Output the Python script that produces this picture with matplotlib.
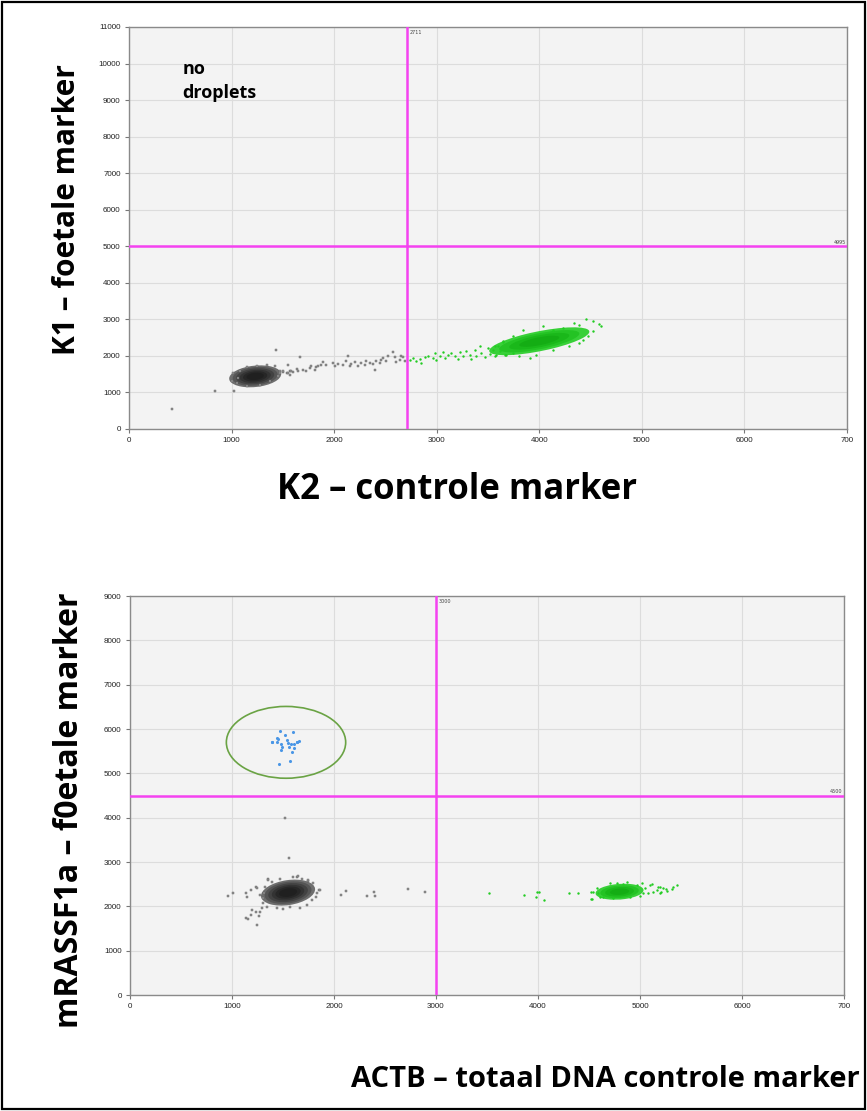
import matplotlib
matplotlib.use("Agg")
import matplotlib.pyplot as plt
from matplotlib.patches import Ellipse, Rectangle

# --- data ---
x_ticks = [0, 1000, 2000, 3000, 4000, 5000, 6000, 7000]
x_ticklabels = ['0', '1000', '2000', '3000', '4000', '5000', '6000', '700']
y_ticks_top = list(range(0, 11001, 1000))
y_ticks_bot = list(range(0, 9001, 1000))

# threshold lines
top_thr_x, top_thr_y = 2711, 4995
bot_thr_x, bot_thr_y = 3000, 4500

# dense droplet clouds: centre x, centre y, width, height, angle (data units)
top_neg_cloud = [1230, 1440, 624, 478, 65]
top_pos_cloud = [4000, 2400, 1145, 474, 35]
bot_neg_cloud = [1550, 2310, 630, 478, 56]
bot_pos_cloud = [4800, 2330, 482, 346, 18]

# top plot - grey droplets around / away from the dense cloud
top_grey_x = [415, 840, 1020, 1430, 1665,
              1016, 1000, 1049, 1146, 1276, 1373, 1455, 1471, 1422, 1341, 1244, 1146, 1081, 1065,
              1503, 1536, 1568, 1552, 1601,
              1470, 1503, 1551, 1568, 1584, 1633, 1649, 1698, 1730, 1762, 1779, 1811, 1827, 1844,
              1876, 1892, 1925, 1990, 2006, 2038, 2087, 2120, 2136, 2152, 2168, 2201, 2233, 2266,
              2298, 2314, 2347, 2379, 2395, 2412, 2444, 2460, 2477, 2509, 2525, 2574, 2590, 2606,
              2639, 2655, 2671, 2687]
top_grey_y = [545, 1050, 1030, 2150, 1970,
              1529, 1302, 1256, 1165, 1210, 1302, 1438, 1575, 1711, 1757, 1730, 1693, 1575, 1393,
              1547, 1529, 1575, 1757, 1547,
              1529, 1575, 1529, 1466, 1575, 1639, 1593, 1620, 1575, 1666, 1711, 1620, 1693, 1730,
              1757, 1821, 1757, 1803, 1711, 1784, 1757, 1848, 1985, 1711, 1784, 1821, 1711, 1803,
              1757, 1848, 1803, 1784, 1602, 1848, 1803, 1894, 1939, 1848, 2003, 2094, 1957, 1821,
              1894, 2003, 1957, 1848]

# top plot - green droplets (trail + edge of the cloud)
top_green_x = [2736, 2769, 2801, 2834, 2850, 2882, 2915, 2963, 2980, 2996, 3028, 3061, 3077,
               3109, 3142, 3174, 3207, 3223, 3256, 3288, 3320, 3337, 3369, 3385, 3418, 3434,
               3466, 3499, 3515, 3548, 3564, 3596, 3613, 3645, 3661,
               4457, 4521, 4603, 4586, 4392, 4035, 3840, 4424, 4521, 4343, 4229, 4132, 3742,
               3645, 3564, 3677, 3807, 3970, 4132, 4294, 4392, 4473, 3905, 3742, 3580]
top_green_y = [1894, 1939, 1848, 1912, 1803, 1967, 2003, 1939, 2076, 1876, 1985, 2094, 1930,
               2030, 2076, 1985, 1912, 2094, 2003, 2121, 2030, 1912, 2167, 2003, 2258, 2076,
               1967, 2212, 2058, 2167, 1985, 2276, 2121, 2367, 2030,
               3014, 2968, 2804, 2877, 2850, 2805, 2695, 2440, 2668, 2896, 2759, 2713, 2531,
               2395, 2258, 2030, 1985, 2030, 2167, 2258, 2349, 2531, 1939, 2076, 2030]

# bottom plot - blue (positive) droplets
bot_blue_x = [1474, 1520, 1595, 1438, 1451, 1542, 1395, 1389, 1444, 1484, 1552, 1578,
              1605, 1640, 1660, 1634, 1559, 1611, 1490, 1480, 1588, 1461, 1569]
bot_blue_y = [5963, 5873, 5933, 5805, 5782, 5760, 5715, 5700, 5700, 5670, 5693, 5670,
              5662, 5715, 5737, 5707, 5587, 5572, 5587, 5527, 5474, 5203, 5271]

# bottom plot - grey droplets
bot_grey_x = [1520, 1560, 960, 1010, 1135, 1145, 1190, 1240, 1135, 1155, 1185, 1200, 1235,
              1250, 1265, 1275, 2070, 2115, 2325, 2395, 2405, 2730, 2890, 1855, 1640, 1750,
              1355, 1356, 1601, 1650, 1748, 1862, 1830, 1823, 1781, 1732, 1568, 1437, 1339,
              1307, 1300, 1313, 1323, 1388, 1470, 1683, 1797, 1274, 1248, 1290, 1503, 1666]
bot_grey_y = [3990, 3080, 2230, 2310, 2290, 2220, 2370, 2430, 1745, 1710, 1810, 1920, 1880,
              1580, 1790, 1880, 2250, 2355, 2225, 2325, 2235, 2385, 2325, 2370, 2670, 2580,
              2610, 2595, 2670, 2685, 2595, 2369, 2294, 2204, 2143, 2031, 1993, 1955, 1993,
              2068, 2181, 2294, 2444, 2557, 2610, 2610, 2519, 2256, 2407, 1955, 1933, 1970]

# bottom plot - green droplets
bot_green_x = [3520, 3865, 3980, 3995, 4010, 4060, 4300, 4390, 4520, 4525, 5165, 5195, 5210,
               5260, 5325, 5360, 5115,
               4526, 4543, 4575, 4592, 4608, 4706, 4772, 4837, 4870, 4902, 4968, 5017, 5049,
               5098, 5082, 5131, 5180, 5229, 5262, 5196, 4739, 4641, 5000, 5033, 5311]
bot_green_y = [2310, 2250, 2205, 2325, 2325, 2150, 2295, 2295, 2325, 2165, 2370, 2430, 2315,
               2400, 2430, 2475, 2505,
               2158, 2331, 2406, 2293, 2203, 2519, 2534, 2504, 2556, 2218, 2481, 2519, 2406,
               2481, 2293, 2331, 2443, 2406, 2353, 2293, 2180, 2218, 2233, 2308, 2383]

# circled cluster in the bottom plot: centre x, centre y, width, height
bot_circle = [1530, 5700, 1170, 1620]

magenta = '#f442f0'
grey_layers = ['#6e6e6e', '#555555', '#424242', '#333333', '#272727', '#202020']
green_layers = ['#38d038', '#24c324', '#1ab81a', '#14ad14']
tick_font = dict(family='Liberation Sans', size=5.8, color='#222222')

fig = plt.figure(figsize=(8.67, 11.11), dpi=100)
ax1 = fig.add_axes([0.1488, 0.6139, 0.8281, 0.3618])
ax2 = fig.add_axes([0.1499, 0.1044, 0.8235, 0.3591])


def draw_cloud(ax, cloud, colors):
    cx, cy, w, h, ang = cloud
    n = len(colors)
    for i, c in enumerate(colors):
        f = 1.0 - i * (0.8 / n)
        ax.add_patch(Ellipse((cx, cy), w * f, h * f, angle=ang, facecolor=c,
                             edgecolor='none', zorder=2))


def style_axes(ax, yticks, ymax):
    ax.set_facecolor('#f3f3f3')
    ax.set_xlim(0, 7000)
    ax.set_ylim(0, ymax)
    ax.set_xticks(x_ticks)
    ax.set_xticklabels(x_ticklabels, fontdict=tick_font)
    ax.set_yticks(yticks)
    ax.set_yticklabels([str(v) for v in yticks], fontdict=tick_font)
    ax.grid(True, color='#dcdcdc', lw=0.8, zorder=0)
    ax.set_axisbelow(True)
    ax.tick_params(length=3, width=0.8, color='#777777', pad=3)
    for s in ax.spines.values():
        s.set_color('#8a8a8a')
        s.set_linewidth(1.0)


# --- top plot ---
style_axes(ax1, y_ticks_top, 11000)
draw_cloud(ax1, top_neg_cloud, grey_layers)
draw_cloud(ax1, top_pos_cloud, green_layers)
ax1.scatter(top_grey_x, top_grey_y, s=3, marker='s', facecolor='#9a9a9a',
            edgecolor='#5e5e5e', linewidths=0.3, zorder=3)
ax1.scatter(top_green_x, top_green_y, s=3, color='#22cc22', linewidths=0, zorder=3)
ax1.axvline(top_thr_x, color=magenta, lw=1.8, zorder=4)
ax1.axhline(top_thr_y, color=magenta, lw=1.8, zorder=4)
ax1.annotate(str(top_thr_x), (top_thr_x, 11000), xytext=(2, -2), textcoords='offset points',
             ha='left', va='top', fontsize=3.5, color='#444444')
ax1.annotate(str(top_thr_y), (7000, top_thr_y), xytext=(-1, 1), textcoords='offset points',
             ha='right', va='bottom', fontsize=3.5, color='#444444')
ax1.text(520, 9520, 'no\ndroplets', fontsize=13, fontweight='bold', family='Open Sans',
         ha='left', va='center', linespacing=1.4)

# --- bottom plot ---
style_axes(ax2, y_ticks_bot, 9000)
draw_cloud(ax2, bot_neg_cloud, grey_layers)
draw_cloud(ax2, bot_pos_cloud, green_layers)
ax2.scatter(bot_grey_x, bot_grey_y, s=3, marker='s', facecolor='#9a9a9a',
            edgecolor='#5e5e5e', linewidths=0.3, zorder=3)
ax2.scatter(bot_green_x, bot_green_y, s=3, color='#22cc22', linewidths=0, zorder=3)
ax2.scatter(bot_blue_x, bot_blue_y, s=5, color='#4a96e6', linewidths=0, zorder=3)
cx, cy, w, h = bot_circle
ax2.add_patch(Ellipse((cx, cy), w, h, facecolor='none', edgecolor='#6aa344', lw=1.2, zorder=4))
ax2.axvline(bot_thr_x, color=magenta, lw=1.8, zorder=4)
ax2.axhline(bot_thr_y, color=magenta, lw=1.8, zorder=4)
ax2.annotate(str(bot_thr_x), (bot_thr_x, 9000), xytext=(2, -2), textcoords='offset points',
             ha='left', va='top', fontsize=3.5, color='#444444')
ax2.annotate(str(bot_thr_y), (7000, bot_thr_y), xytext=(-1, 1), textcoords='offset points',
             ha='right', va='bottom', fontsize=3.5, color='#444444')

# --- axis titles ---
lab = dict(fontweight='bold', family='Open Sans', color='black', ha='center', va='center')
fig.text(0.0773, 0.811, 'K1 – foetale marker', rotation=90, fontsize=21.5, **lab)
fig.text(0.527, 0.559, 'K2 – controle marker', fontsize=25, **lab)
fig.text(0.0807, 0.271, 'mRASSF1a – f0etale marker', rotation=90, fontsize=23, **lab)
fig.text(0.698, 0.028, 'ACTB – totaal DNA controle marker', fontsize=21, **lab)

# frame round the whole picture
fig.patches.append(Rectangle((0.002, 0.002), 0.996, 0.996, transform=fig.transFigure,
                             fill=False, edgecolor='black', lw=1.6))

fig.savefig('out.png', dpi=100)
